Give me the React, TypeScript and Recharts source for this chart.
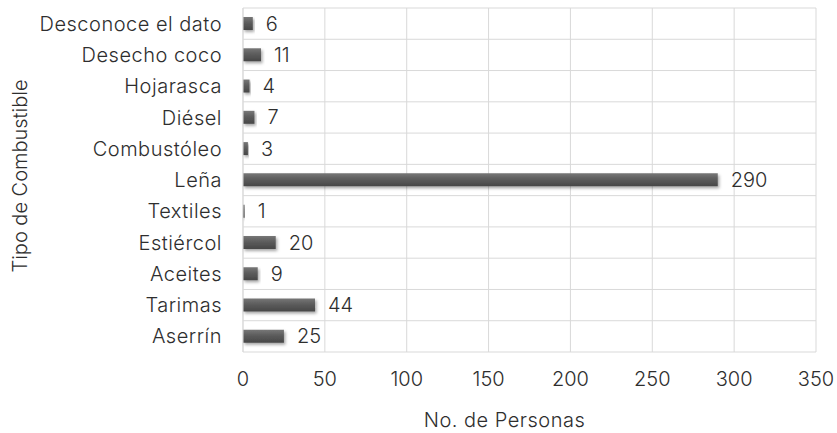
import { BarChart, Bar, XAxis, YAxis, CartesianGrid, LabelList, Label } from "recharts";

const categories = [
  "Desconoce el dato",
  "Desecho coco",
  "Hojarasca",
  "Diésel",
  "Combustóleo",
  "Leña",
  "Textiles",
  "Estiércol",
  "Aceites",
  "Tarimas",
  "Aserrín",
];
const personas = [6, 11, 4, 7, 3, 290, 1, 20, 9, 44, 25];
const xTicks = [0, 50, 100, 150, 200, 250, 300, 350];

const data = categories.map((tipo, i) => ({ tipo, personas: personas[i] }));

const FONT = "Inter, 'Liberation Sans', sans-serif";
const TEXT = "#2e2e2e";
const GRID = "#d9d9d9";
const FS = 20;
const FW = 300;

// row separators sit on the band edges, not on the tick centres
const rowLines = ({ offset }: any) => {
  const n = categories.length;
  const step = offset.height / n;
  return Array.from({ length: n + 1 }, (_, i) => offset.top + i * step);
};

function YTitle({ viewBox }: any) {
  const cx = 20;
  const cy = viewBox.y + viewBox.height / 2 - 4;
  return (
    <text
      x={cx}
      y={cy}
      transform={`rotate(-90, ${cx}, ${cy})`}
      textAnchor="middle"
      dominantBaseline="central"
      fill={TEXT}
      fontSize={FS}
      fontWeight={FW}
      fontFamily={FONT}
    >
      Tipo de Combustible
    </text>
  );
}

function XTitle({ viewBox }: any) {
  return (
    <text
      x={viewBox.x + viewBox.width / 2 - 25}
      y={427}
      textAnchor="middle"
      fill={TEXT}
      fontSize={FS}
      fontWeight={FW}
      fontFamily={FONT}
      letterSpacing={0.5}
    >
      No. de Personas
    </text>
  );
}

export default function App() {
  return (
    <div style={{ position: "fixed", left: 0, top: 0, background: "#fff" }}>
      <BarChart
        width={837}
        height={433}
        data={data}
        layout="vertical"
        margin={{ top: 8, right: 21, bottom: 0, left: 0 }}
        barSize={13}
        style={{ fontFamily: FONT }}
      >
        <defs>
          <linearGradient id="barFill" x1="0" y1="0" x2="0" y2="1">
            <stop offset="0%" stopColor="#777777" />
            <stop offset="45%" stopColor="#5c5c5c" />
            <stop offset="100%" stopColor="#474747" />
          </linearGradient>
          <filter id="barShadow" x="-10%" y="-50%" width="130%" height="220%">
            <feDropShadow dx="1.5" dy="2" stdDeviation="1.6" floodColor="#000" floodOpacity="0.35" />
          </filter>
        </defs>
        <CartesianGrid stroke={GRID} horizontalCoordinatesGenerator={rowLines} />
        <XAxis
          type="number"
          domain={[0, 350]}
          ticks={xTicks}
          height={81}
          axisLine={false}
          tickLine={false}
          tickSize={0}
          tickMargin={20}
          tick={{ fill: TEXT, fontSize: FS, fontWeight: FW }}
        >
          <Label content={<XTitle />} />
        </XAxis>
        <YAxis
          type="category"
          dataKey="tipo"
          width={243}
          axisLine={{ stroke: GRID }}
          tickLine={false}
          tickSize={0}
          tickMargin={21}
          interval={0}
          tick={{ fill: TEXT, fontSize: FS, fontWeight: FW, letterSpacing: 0.5 }}
        >
          <Label content={<YTitle />} />
        </YAxis>
        <Bar
          dataKey="personas"
          fill="url(#barFill)"
          filter="url(#barShadow)"
          isAnimationActive={false}
        >
          <LabelList
            dataKey="personas"
            position="right"
            offset={13}
            fill={TEXT}
            fontSize={FS}
            fontWeight={FW}
          />
        </Bar>
      </BarChart>
    </div>
  );
}
